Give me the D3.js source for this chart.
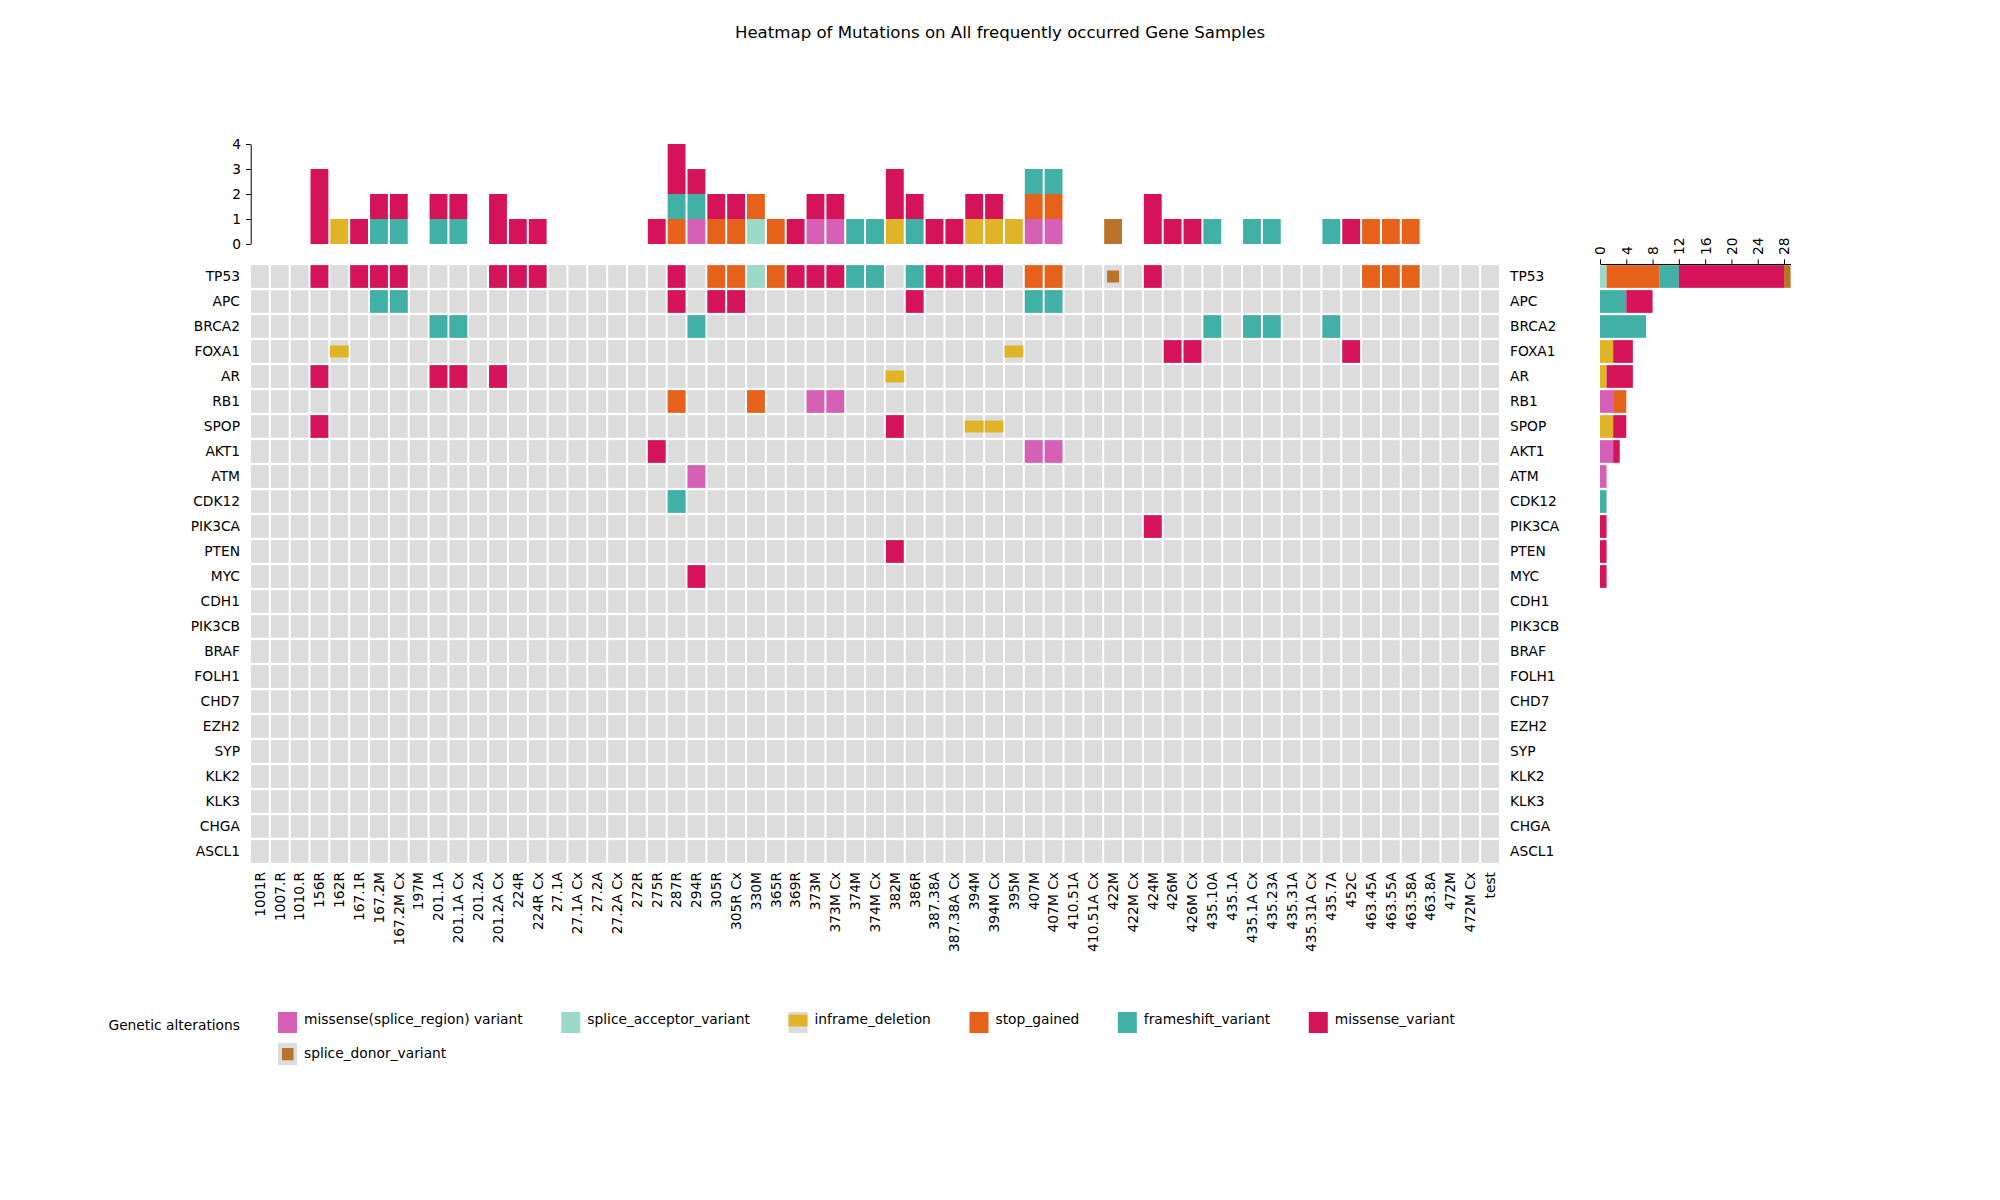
<!DOCTYPE html>
<html><head><meta charset="utf-8">
<script src="https://cdn.jsdelivr.net/npm/d3@7"></script>
<style>
body{margin:0;background:#fff}
text{font-family:"DejaVu Sans",sans-serif}
</style>
</head><body>
<svg id="chart" width="2000" height="1200"></svg>
<script>
const chartTitle = "Heatmap of Mutations on All frequently occurred Gene Samples";
const legendTitle = "Genetic alterations";
const genes = ["TP53","APC","BRCA2","FOXA1","AR","RB1","SPOP","AKT1","ATM","CDK12","PIK3CA","PTEN","MYC","CDH1","PIK3CB","BRAF","FOLH1","CHD7","EZH2","SYP","KLK2","KLK3","CHGA","ASCL1"];
const samples = ["1001R","1007.R","1010.R","156R","162R","167.1R","167.2M","167.2M Cx","197M","201.1A","201.1A Cx","201.2A","201.2A Cx","224R","224R Cx","27.1A","27.1A Cx","27.2A","27.2A Cx","272R","275R","287R","294R","305R","305R Cx","330M","365R","369R","373M","373M Cx","374M","374M Cx","382M","386R","387.38A","387.38A Cx","394M","394M Cx","395M","407M","407M Cx","410.51A","410.51A Cx","422M","422M Cx","424M","426M","426M Cx","435.10A","435.1A","435.1A Cx","435.23A","435.31A","435.31A Cx","435.7A","452C","463.45A","463.55A","463.58A","463.8A","472M","472M Cx","test"];
const alterationTypes = ["missense(splice_region) variant","splice_acceptor_variant","inframe_deletion","stop_gained","frameshift_variant","missense_variant","splice_donor_variant"];
const alterationColors = ["#d660b6","#9bdac9","#dfb428","#e6621b","#41b0a6","#d51358","#b9742a"];
const topTicks = [0,1,2,3,4];
const sideTicks = [0,4,8,12,16,20,24,28];

// [gene, sample, alteration]
const mutations = [
 ["TP53","156R","missense_variant"],["TP53","167.1R","missense_variant"],["TP53","167.2M","missense_variant"],
 ["TP53","167.2M Cx","missense_variant"],["TP53","201.2A Cx","missense_variant"],["TP53","224R","missense_variant"],
 ["TP53","224R Cx","missense_variant"],["TP53","287R","missense_variant"],["TP53","305R","stop_gained"],
 ["TP53","305R Cx","stop_gained"],["TP53","330M","splice_acceptor_variant"],["TP53","365R","stop_gained"],
 ["TP53","369R","missense_variant"],["TP53","373M","missense_variant"],["TP53","373M Cx","missense_variant"],
 ["TP53","374M","frameshift_variant"],["TP53","374M Cx","frameshift_variant"],["TP53","386R","frameshift_variant"],
 ["TP53","387.38A","missense_variant"],["TP53","387.38A Cx","missense_variant"],["TP53","394M","missense_variant"],
 ["TP53","394M Cx","missense_variant"],["TP53","407M","stop_gained"],["TP53","407M Cx","stop_gained"],
 ["TP53","422M","splice_donor_variant"],["TP53","424M","missense_variant"],["TP53","463.45A","stop_gained"],
 ["TP53","463.55A","stop_gained"],["TP53","463.58A","stop_gained"],
 ["APC","167.2M","frameshift_variant"],["APC","167.2M Cx","frameshift_variant"],["APC","287R","missense_variant"],
 ["APC","305R","missense_variant"],["APC","305R Cx","missense_variant"],["APC","386R","missense_variant"],
 ["APC","407M","frameshift_variant"],["APC","407M Cx","frameshift_variant"],
 ["BRCA2","201.1A","frameshift_variant"],["BRCA2","201.1A Cx","frameshift_variant"],["BRCA2","294R","frameshift_variant"],
 ["BRCA2","435.10A","frameshift_variant"],["BRCA2","435.1A Cx","frameshift_variant"],["BRCA2","435.23A","frameshift_variant"],
 ["BRCA2","435.7A","frameshift_variant"],
 ["FOXA1","162R","inframe_deletion"],["FOXA1","395M","inframe_deletion"],["FOXA1","426M","missense_variant"],
 ["FOXA1","426M Cx","missense_variant"],["FOXA1","452C","missense_variant"],
 ["AR","156R","missense_variant"],["AR","201.1A","missense_variant"],["AR","201.1A Cx","missense_variant"],
 ["AR","201.2A Cx","missense_variant"],["AR","382M","inframe_deletion"],
 ["RB1","287R","stop_gained"],["RB1","330M","stop_gained"],["RB1","373M","missense(splice_region) variant"],
 ["RB1","373M Cx","missense(splice_region) variant"],
 ["SPOP","156R","missense_variant"],["SPOP","382M","missense_variant"],["SPOP","394M","inframe_deletion"],
 ["SPOP","394M Cx","inframe_deletion"],
 ["AKT1","275R","missense_variant"],["AKT1","407M","missense(splice_region) variant"],["AKT1","407M Cx","missense(splice_region) variant"],
 ["ATM","294R","missense(splice_region) variant"],
 ["CDK12","287R","frameshift_variant"],
 ["PIK3CA","424M","missense_variant"],
 ["PTEN","382M","missense_variant"],
 ["MYC","294R","missense_variant"]
];

const svg = d3.select("#chart");
const FS = "13.8px";
const color = d3.scaleOrdinal().domain(alterationTypes).range(alterationColors);

const x = d3.scaleBand().domain(samples).range([250, 1500]);
const y = d3.scaleBand().domain(genes).range([264, 864]);
const yTop = d3.scaleLinear().domain([0, 4]).range([244, 144]);
const xSide = d3.scaleLinear().domain([0, 29]).range([1600, 1790.6]);
const bw = x.bandwidth(), bh = y.bandwidth();
const gx = 1, gy = 1.15;

// title
svg.append("text").attr("x", 1000).attr("y", 38).attr("text-anchor", "middle")
  .style("font-size", "16.6px").text(chartTitle);

// grid background
const grid = svg.append("g");
genes.forEach(g => samples.forEach(s => {
  grid.append("rect").attr("x", x(s) + gx).attr("y", y(g) + gy)
    .attr("width", bw - 2*gx).attr("height", bh - 2*gy).attr("fill", "#dcdcdc");
}));

// mutation cells
const mg = svg.append("g");
mutations.forEach(([g, s, t]) => {
  if (t === "inframe_deletion") {
    mg.append("rect").attr("x", x(s) + 0.5).attr("y", y(g) + bh/2 - 6)
      .attr("width", bw - 1).attr("height", 12).attr("fill", color(t));
  } else if (t === "splice_donor_variant") {
    mg.append("rect").attr("x", x(s) + bw/2 - 6).attr("y", y(g) + bh/2 - 6)
      .attr("width", 12).attr("height", 12).attr("fill", color(t));
  } else {
    mg.append("rect").attr("x", x(s) + gx).attr("y", y(g) + gy)
      .attr("width", bw - 2*gx).attr("height", bh - 2*gy).attr("fill", color(t));
  }
});

// top stacked bars (per sample)
const perSample = samples.map(s => {
  const o = {sample: s};
  alterationTypes.forEach(t => o[t] = mutations.filter(m => m[1] === s && m[2] === t).length);
  return o;
});
const stTop = d3.stack().keys(alterationTypes)(perSample);
svg.append("g").selectAll("g").data(stTop).join("g").attr("fill", d => color(d.key))
  .selectAll("rect").data(d => d.filter(v => v[1] > v[0])).join("rect")
  .attr("x", d => x(d.data.sample) + gx).attr("width", bw - 2*gx)
  .attr("y", d => yTop(d[1])).attr("height", d => yTop(d[0]) - yTop(d[1]));

const topAxis = svg.append("g").attr("transform", "translate(250.7,0)")
  .call(d3.axisLeft(yTop).tickValues(topTicks).tickFormat(d3.format("d"))
    .tickSize(4.7).tickSizeOuter(0).tickPadding(5));
topAxis.selectAll("text").style("font-size", FS).style("font-family", "DejaVu Sans");

// side stacked bars (per gene)
const perGene = genes.map(g => {
  const o = {gene: g};
  alterationTypes.forEach(t => o[t] = mutations.filter(m => m[0] === g && m[2] === t).length);
  return o;
});
const stSide = d3.stack().keys(alterationTypes)(perGene);
svg.append("g").selectAll("g").data(stSide).join("g").attr("fill", d => color(d.key))
  .selectAll("rect").data(d => d.filter(v => v[1] > v[0])).join("rect")
  .attr("y", d => y(d.data.gene) + gy).attr("height", bh - 2*gy)
  .attr("x", d => xSide(d[0])).attr("width", d => xSide(d[1]) - xSide(d[0]));

const sideAxis = svg.append("g").attr("transform", "translate(0,264)")
  .call(d3.axisTop(xSide).tickValues(sideTicks).tickSize(4.7).tickSizeOuter(0));
sideAxis.selectAll("text").attr("transform", "rotate(-90)").attr("x", 9).attr("y", 0)
  .attr("dy", "0.35em").style("text-anchor", "start").style("font-size", FS).style("font-family", "DejaVu Sans");

// gene labels left & right
const leftAx = svg.append("g").attr("transform", "translate(250,0)")
  .call(d3.axisLeft(y).tickSize(0).tickPadding(10));
leftAx.select(".domain").remove();
leftAx.selectAll("text").style("font-size", FS).style("font-family", "DejaVu Sans");
const rightAx = svg.append("g").attr("transform", "translate(1500,0)")
  .call(d3.axisRight(y).tickSize(0).tickPadding(10));
rightAx.select(".domain").remove();
rightAx.selectAll("text").style("font-size", FS).style("font-family", "DejaVu Sans");

// sample labels
const botAx = svg.append("g").attr("transform", "translate(0,864)")
  .call(d3.axisBottom(x).tickSize(0));
botAx.select(".domain").remove();
botAx.selectAll("text").attr("transform", "rotate(-90)").attr("x", -8).attr("y", 0)
  .attr("dy", "0.35em").style("text-anchor", "end").style("font-size", FS).style("font-family", "DejaVu Sans");

// legend
const lg = svg.append("g");
lg.append("text").attr("x", 240).attr("y", 1030).attr("text-anchor", "end").style("font-size", FS).text(legendTitle);
const firstRow = alterationTypes.slice(0, 6), secondRow = alterationTypes.slice(6);
function legendItem(t, lx, ly, baseline) {
  const sw = 19, sh = 21;
  if (t === "inframe_deletion") {
    lg.append("rect").attr("x", lx).attr("y", ly).attr("width", sw).attr("height", sh).attr("fill", "#dcdcdc");
    lg.append("rect").attr("x", lx).attr("y", ly + 2.5).attr("width", sw).attr("height", 12).attr("fill", color(t));
  } else if (t === "splice_donor_variant") {
    lg.append("rect").attr("x", lx).attr("y", ly).attr("width", sw).attr("height", sh + 1).attr("fill", "#dcdcdc");
    lg.append("rect").attr("x", lx + 4).attr("y", ly + 5).attr("width", 11.5).attr("height", 12.3).attr("fill", color(t));
  } else {
    lg.append("rect").attr("x", lx).attr("y", ly).attr("width", sw).attr("height", sh).attr("fill", color(t));
  }
  const tx = lg.append("text").attr("x", lx + 26).attr("y", baseline).style("font-size", FS).text(t);
  return tx.node().getComputedTextLength();
}
let lx = 278;
firstRow.forEach(t => { const w = legendItem(t, lx, 1012, 1024); lx += 26 + w + 38.6; });
lx = 278;
secondRow.forEach(t => { legendItem(t, lx, 1043, 1058); });
</script>
</body></html>
